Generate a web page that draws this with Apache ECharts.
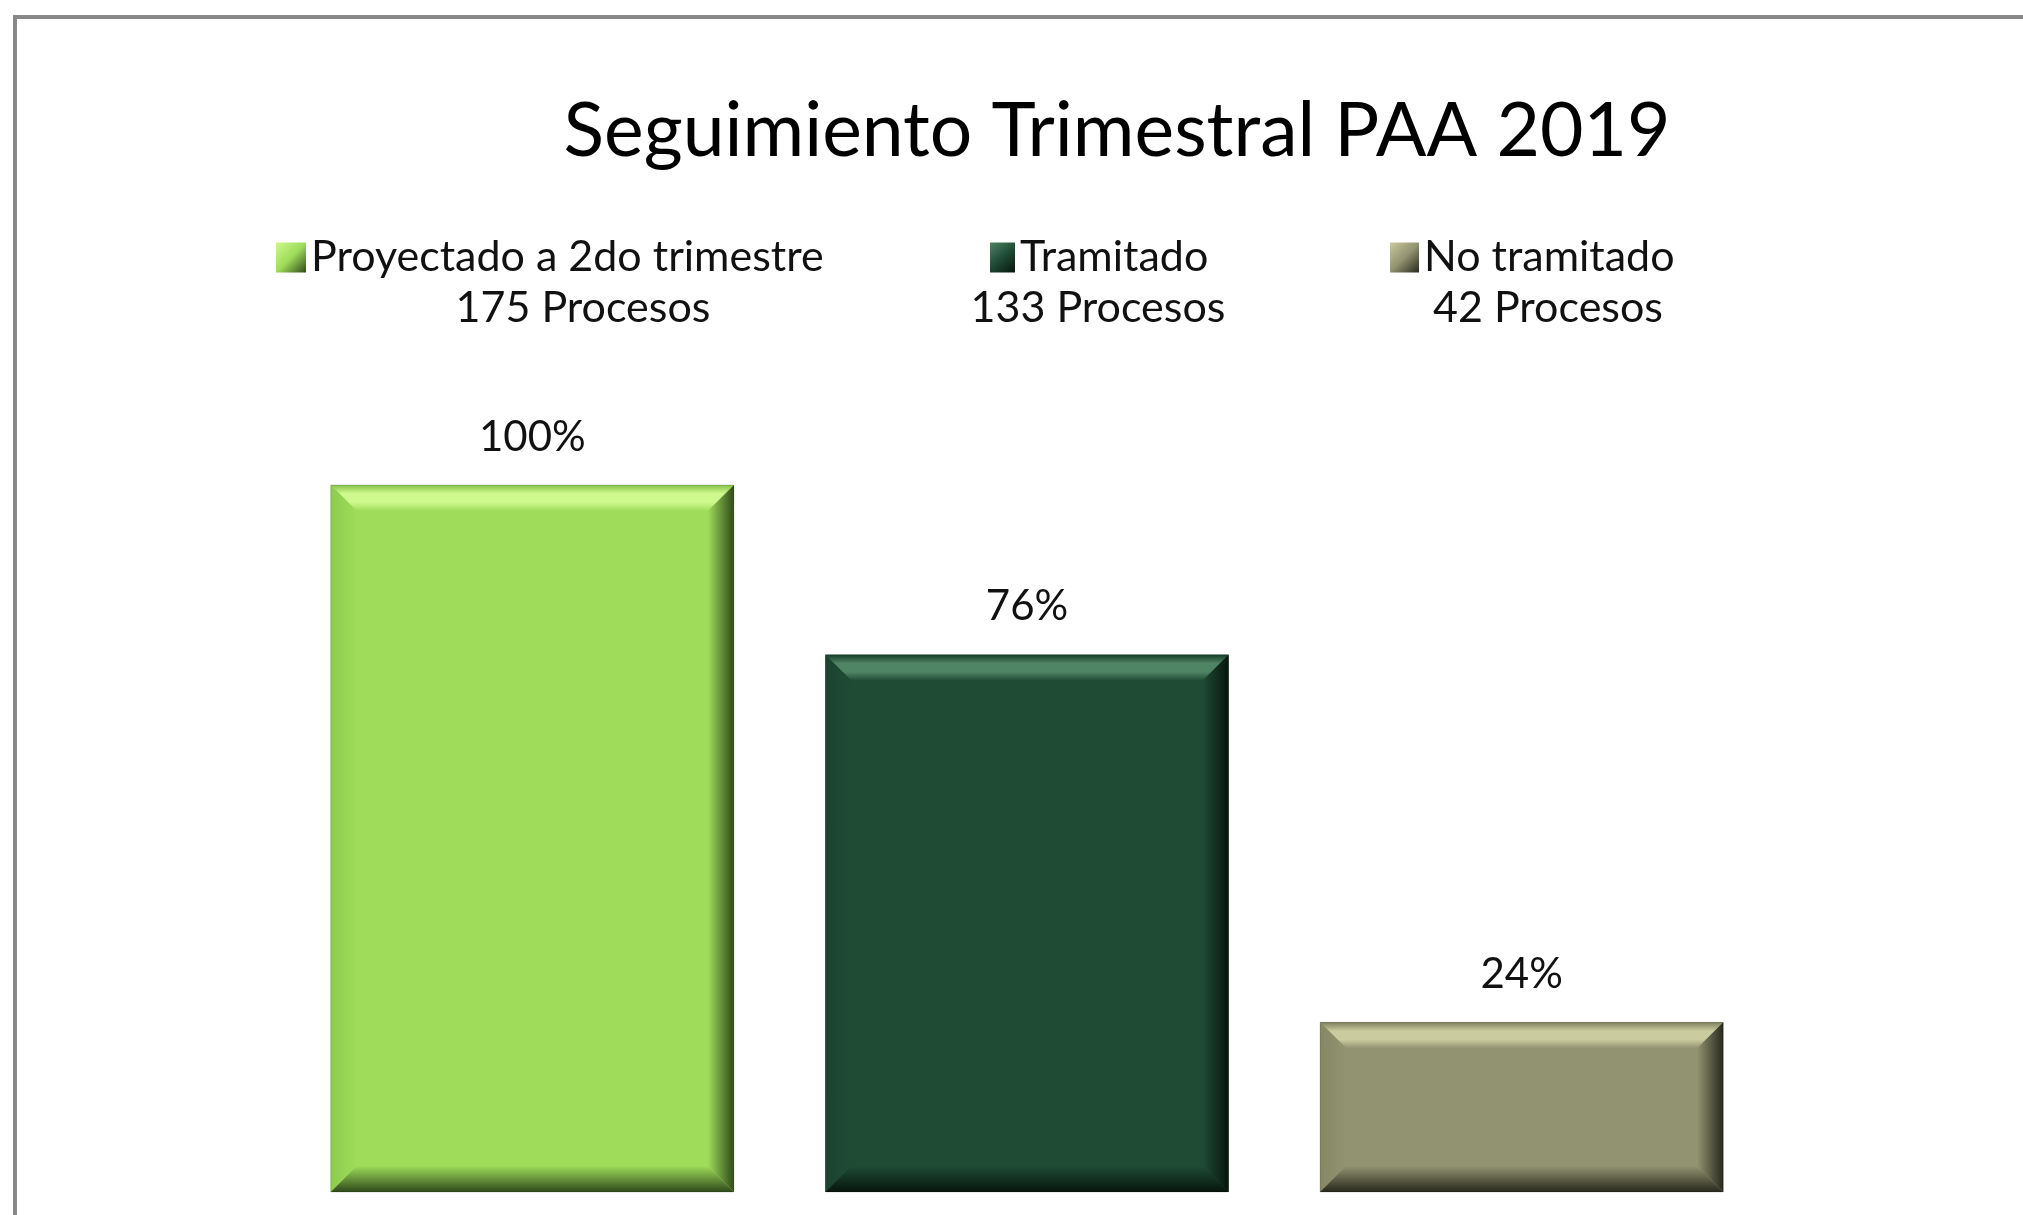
<!DOCTYPE html>
<html>
<head>
<meta charset="utf-8">
<script src="https://cdn.jsdelivr.net/npm/echarts@6/dist/echarts.min.js"></script>
<style>
  html, body { margin: 0; padding: 0; background: #fff; }
  #chart { width: 2023px; height: 1215px; }
</style>
</head>
<body>
<div id="chart"></div>
<script>
// ---- data ----
const titleText = 'Seguimiento Trimestral PAA 2019';
const categories = ['Proyectado a 2do trimestre', 'Tramitado', 'No tramitado'];
const processCounts = [175, 133, 42];
const percentValues = [100, 76, 24];
const countSuffix = 'Procesos';

// ---- styling / layout ----
const FONT = "Lato, 'Open Sans', sans-serif";
const palette = [
  { main: '#9edc5a', light: '#cef98c', edge: '#86c14c', side: '#8ccb4e', dark: '#2f4a1a' },
  { main: '#1f4b34', light: '#4f8464', edge: '#173c28', side: '#1a4330', dark: '#07150d' },
  { main: '#929370', light: '#cacb9e', edge: '#7e7f5f', side: '#868764', dark: '#28291d' }
];
const legendLayout = [
  { left: 276, iw: 30, countX: 583 },
  { left: 990, iw: 25, countX: 1098 },
  { left: 1390, iw: 29, countX: 1548 }
];
const legendTop = 236;
const countY = 308;

const lg = (x2, y2, stops) => new echarts.graphic.LinearGradient(0, 0, x2, y2,
  stops.map((c, i) => ({ offset: i / (stops.length - 1), color: c })));

function renderBevelBar(params, api) {
  const cat = api.value(0);
  const val = api.value(1);
  const topPt = api.coord([cat, val]);
  const basePt = api.coord([cat, 0]);
  const band = api.size([1, 0])[0];
  const w = band * 0.815;
  const x0 = topPt[0] - w / 2, x1 = topPt[0] + w / 2;
  const y0 = topPt[1], y1 = basePt[1];
  const b = Math.min(26, (y1 - y0) / 2);
  const c = palette[params.seriesIndex];
  return {
    type: 'group',
    children: [
      { type: 'rect', shape: { x: x0, y: y0, width: w, height: y1 - y0 }, style: { fill: c.main } },
      { type: 'polygon', shape: { points: [[x0, y0], [x1, y0], [x1 - b, y0 + b], [x0 + b, y0 + b]] },
        style: { fill: lg(0, 1, [c.edge, c.light, c.light, c.main]) } },
      { type: 'polygon', shape: { points: [[x0, y0], [x0 + b, y0 + b], [x0 + b, y1 - b], [x0, y1]] },
        style: { fill: lg(1, 0, [c.side, c.main]) } },
      { type: 'polygon', shape: { points: [[x1, y0], [x1, y1], [x1 - b, y1 - b], [x1 - b, y0 + b]] },
        style: { fill: lg(1, 0, [c.main, c.dark]) } },
      { type: 'polygon', shape: { points: [[x0, y1], [x1, y1], [x1 - b, y1 - b], [x0 + b, y1 - b]] },
        style: { fill: lg(0, 1, [c.main, c.dark]) } },
      { type: 'rect', shape: { x: x0, y: y0, width: w, height: y1 - y0 },
        style: { fill: 'none', stroke: 'rgba(0,0,0,0.15)', lineWidth: 1 } },
      { type: 'text', x: topPt[0], y: y0 - 27,
        style: { text: val + '%', textAlign: 'center', textVerticalAlign: 'bottom',
                 font: '42px ' + FONT, fill: '#111' } }
    ]
  };
}

const chart = echarts.init(document.getElementById('chart'), null, { renderer: 'canvas' });
chart.setOption({
  backgroundColor: '#fff',
  animation: false,
  title: {
    text: titleText,
    left: 1112,
    top: 89,
    textAlign: 'center',
    textStyle: { fontFamily: FONT, fontSize: 75, fontWeight: 'normal', color: '#000' }
  },
  graphic: [{
    type: 'rect', shape: { x: 15, y: 17, width: 2200, height: 1400 },
    style: { fill: 'none', stroke: '#888', lineWidth: 4 }, silent: true, z: 100
  }].concat(categories.map((name, i) => ({
    type: 'text',
    x: legendLayout[i].countX,
    y: countY,
    style: {
      text: processCounts[i] + ' ' + countSuffix,
      textAlign: 'center', textVerticalAlign: 'middle',
      font: '43px ' + FONT, fill: '#111'
    }
  }))),
  legend: categories.map((name, i) => ({
    data: [name],
    left: legendLayout[i].left,
    top: legendTop,
    padding: 0,
    icon: 'rect',
    itemWidth: legendLayout[i].iw,
    itemHeight: 30,
    selectedMode: false,
    textStyle: { fontFamily: FONT, fontSize: 43, lineHeight: 43, color: '#111' }
  })),
  grid: { left: 285, right: 254, top: 485, bottom: 23, containLabel: false },
  xAxis: { type: 'category', data: categories, show: false },
  yAxis: { type: 'value', min: 0, max: 100, show: false },
  series: categories.map((name, i) => ({
    name: name,
    type: 'custom',
    renderItem: renderBevelBar,
    itemStyle: { color: lg(1, 1, [palette[i].light, palette[i].main, palette[i].dark]) },
    encode: { x: 0, y: 1 },
    data: [[i, percentValues[i]]]
  }))
});
</script>
</body>
</html>
